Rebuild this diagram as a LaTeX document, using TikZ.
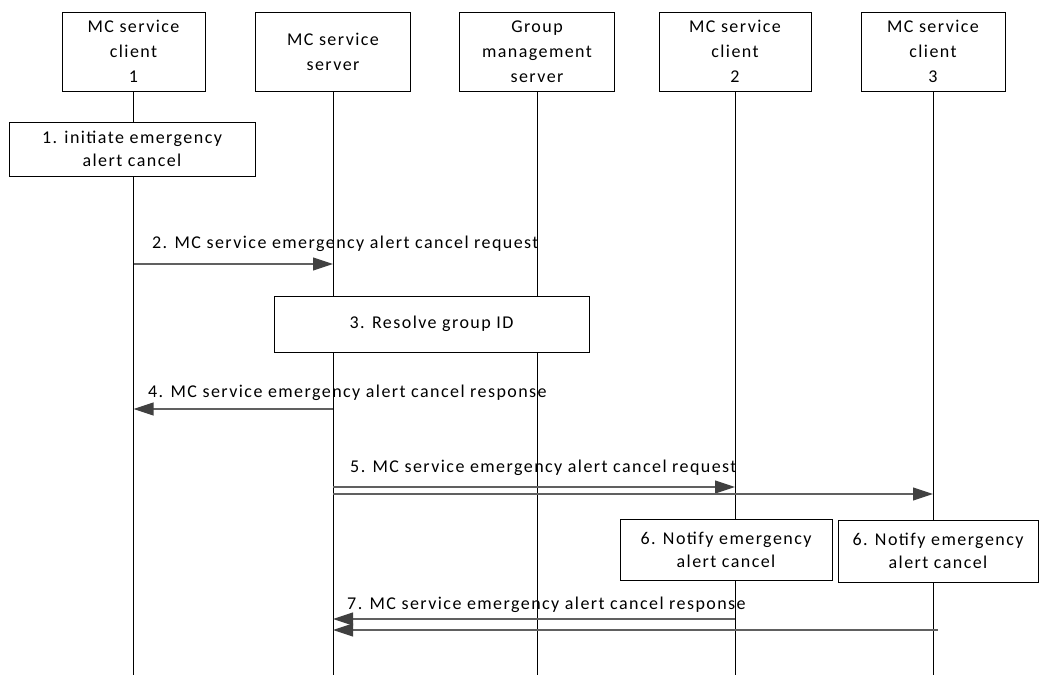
\documentclass[tikz,border=0pt]{standalone}
\usepackage{fontspec}
\setmainfont{Carlito}[LetterSpace=8]
\usetikzlibrary{arrows.meta}
\definecolor{tipc}{HTML}{404040}
\definecolor{linec}{HTML}{606060}
\tikzset{
  entity/.style={draw=black, line width=0.9pt, fill=white, inner sep=0pt, align=center,
    font=\fontsize{18}{25}\selectfont},
  stepbox/.style={draw=black, line width=0.9pt, fill=white, inner sep=0pt, align=center,
    font=\fontsize{18}{23}\selectfont},
  life/.style={draw=black, line width=0.9pt},
  msg/.style={draw=linec, line width=1.1pt, -{Triangle[length=20pt,width=13pt,color=tipc]}},
  lbl/.style={anchor=west, inner sep=0pt, font=\fontsize{18}{20}\selectfont},
}
\begin{document}
\begin{tikzpicture}[x=1pt,y=-1pt]
\useasboundingbox[fill=white] (0,0) rectangle (1042,675);
% headers
\node[entity, minimum width=143pt, minimum height=79pt] (c1) at (133.5,51.5) {MC service\\client\\1};
\node[entity, minimum width=155pt, minimum height=79pt] (srv) at (333,51.5) {MC service\\server};
\node[entity, minimum width=155pt, minimum height=79pt] (gms) at (537,51.5) {Group\\management\\server};
\node[entity, minimum width=152pt, minimum height=79pt] (c2) at (735,51.5) {MC service\\client\\2};
\node[entity, minimum width=144pt, minimum height=79pt] (c3) at (933,51.5) {MC service\\client\\3};
% lifeline ends
\coordinate (c1e) at (c1 |- 0,675);
\coordinate (srve) at (srv |- 0,675);
\coordinate (gmse) at (gms |- 0,675);
\coordinate (c2e) at (c2 |- 0,675);
\coordinate (c3e) at (c3 |- 0,675);
\draw[life] (c1.south) -- (c1e);
\draw[life] (srv.south) -- (srve);
\draw[life] (gms.south) -- (gmse);
\draw[life] (c2.south) -- (c2e);
\draw[life] (c3.south) -- (c3e);
% step 1
\node[stepbox, minimum width=246pt, minimum height=54pt] (s1) at (132,149) {1. initiate emergency\\alert cancel};
% step 2
\node[lbl] (l2) at (152,244) {2. MC service emergency alert cancel request};
\draw[msg] (c1 |- 0,264) -- (srv |- 0,264);
% step 3
\node[stepbox, minimum width=315pt, minimum height=56pt] (s3) at (431.5,324) {3. Resolve group ID};
% step 4
\node[lbl] (l4) at (148,393) {4. MC service emergency alert cancel response};
\draw[msg] (srv |- 0,409) -- (c1 |- 0,409);
% step 5
\node[lbl] (l5) at (350,468) {5. MC service emergency alert cancel request};
\draw[msg] (srv |- 0,487) -- (c2 |- 0,487);
\draw[msg] (srv |- 0,494) -- (c3 |- 0,494);
% step 6
\node[stepbox, minimum width=212pt, minimum height=61pt] (s6a) at (726,549.5) {6. Notify emergency\\alert cancel};
\node[stepbox, minimum width=200pt, minimum height=62pt] (s6b) at (938,551) {6. Notify emergency\\alert cancel};
% step 7
\node[lbl] (l7) at (347,605) {7. MC service emergency alert cancel response};
\coordinate (r7b) at (938,630);
\draw[msg] (c2 |- 0,619) -- (srv |- 0,619);
\draw[msg] (r7b) -- (srv |- 0,630);
\end{tikzpicture}
\end{document}
